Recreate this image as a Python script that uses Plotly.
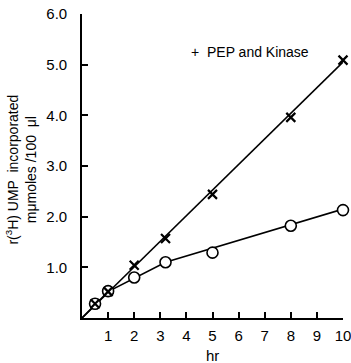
import plotly.graph_objects as go

# Data
hours = [0.5, 1, 2, 3.2, 5, 8, 10]
pep_kinase = [0.28, 0.52, 1.04, 1.57, 2.44, 3.96, 5.09]
control = [0.28, 0.53, 0.80, 1.10, 1.29, 1.82, 2.13]

# drawn lines
pep_line_x = [0, 10]
pep_line_y = [0, 5.05]
ctrl_line_x = [0, 1, 3.2, 10]
ctrl_line_y = [0, 0.52, 1.10, 2.15]

x_ticks = [1, 2, 3, 4, 5, 6, 7, 8, 9, 10]
y_ticks = [1, 2, 3, 4, 5, 6]
y_tick_labels = ["1.0", "2.0", "3.0", "4.0", "5.0", "6.0"]

FONT = "Liberation Sans"

fig = go.Figure()
fig.add_trace(go.Scatter(x=pep_line_x, y=pep_line_y, mode="lines",
                         line=dict(color="black", width=1.6), hoverinfo="skip"))
fig.add_trace(go.Scatter(x=ctrl_line_x, y=ctrl_line_y, mode="lines",
                         line=dict(color="black", width=1.6), hoverinfo="skip"))
fig.add_trace(go.Scatter(x=hours, y=control, mode="markers",
                         marker=dict(symbol="circle", size=11, color="white",
                                     line=dict(color="black", width=1.6))))
fig.add_trace(go.Scatter(x=hours, y=pep_kinase, mode="markers",
                         marker=dict(symbol="x-thin", size=9,
                                     line=dict(color="black", width=2.2))))

fig.add_annotation(x=6.45, y=5.25, xref="x", yref="y",
                   text="+  PEP and Kinase", showarrow=False,
                   xanchor="center", yanchor="middle",
                   font=dict(family=FONT, size=14, color="black"))
fig.add_annotation(x=-0.235, y=0.487, xref="paper", yref="paper",
                   text="r(<sup>3</sup>H) UMP  incorporated<br>mμmoles /100  μl",
                   textangle=-90, showarrow=False, align="center",
                   xanchor="center", yanchor="middle",
                   font=dict(family=FONT, size=14, color="black"))
fig.add_annotation(x=0.5, y=-0.09, xref="paper", yref="paper",
                   text="hr", showarrow=False,
                   xanchor="center", yanchor="top",
                   font=dict(family=FONT, size=15, color="black"))

fig.update_layout(
    width=351, height=363,
    margin=dict(l=82, r=8, t=14, b=45, autoexpand=False),
    paper_bgcolor="white", plot_bgcolor="white",
    showlegend=False,
    font=dict(family=FONT, size=15, color="black"),
    xaxis=dict(range=[0, 10], tickvals=x_ticks, ticktext=[str(t) for t in x_ticks],
               ticks="inside", ticklen=6, tickwidth=1.5, tickcolor="black",
               ticklabelstandoff=3, ticklabeloverflow="allow",
               showline=True, linecolor="black", linewidth=1.6,
               showgrid=False, zeroline=False, automargin=False),
    yaxis=dict(range=[0, 6], tickvals=y_ticks, ticktext=y_tick_labels,
               ticks="inside", ticklen=6, tickwidth=1.5, tickcolor="black",
               ticklabelstandoff=10, ticklabeloverflow="allow",
               showline=True, linecolor="black", linewidth=1.6,
               showgrid=False, zeroline=False, automargin=False),
)
fig.update_traces(cliponaxis=False)

fig.write_html("out.html")
